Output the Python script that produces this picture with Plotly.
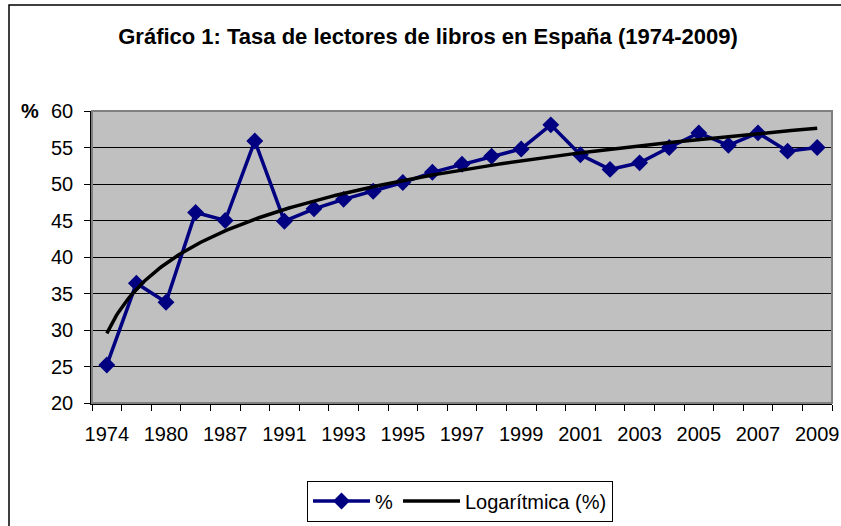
import numpy as np
import plotly.graph_objects as go

# ---- data ----
years = ["1974", "1978", "1980", "1985", "1987", "1990", "1991", "1992", "1993",
         "1994", "1995", "1996", "1997", "1998", "1999", "2000", "2001", "2002",
         "2003", "2004", "2005", "2006", "2007", "2008", "2009"]
rate = [25.2, 36.4, 33.8, 46.1, 45.0, 55.9, 44.9, 46.6, 47.9, 49.0, 50.2, 51.6,
        52.7, 53.8, 54.8, 58.1, 54.0, 52.0, 52.9, 55.0, 57.0, 55.3, 57.0, 54.5, 55.0]
label_years = years[::2]

title_text = "Gráfico 1: Tasa de lectores de libros en España (1974-2009)"
series_name = "%"
trend_name = "Logarítmica (%)"

FONT = "Liberation Sans, Arial, sans-serif"
NAVY = "#000080"

idx = np.arange(1, len(years) + 1)
# Excel-style logarithmic trendline: least-squares fit of y = a*ln(x) + b
a, b = np.polyfit(np.log(idx), np.array(rate), 1)
xt = np.linspace(1, len(years), 300)
yt = a * np.log(xt) + b

fig = go.Figure()
fig.add_trace(go.Scatter(
    x=idx, y=rate, name=series_name, mode="lines+markers",
    line=dict(color=NAVY, width=3.5),
    marker=dict(symbol="diamond", size=13, color=NAVY),
))
fig.add_trace(go.Scatter(
    x=xt, y=yt, name=trend_name, mode="lines",
    line=dict(color="black", width=3.5),
))

W, H = 841, 526
L, R, T, B = 92, 9, 111, 123
pw = W - L - R
ph = H - T - B


def px_x(p):
    return (p - L) / pw


def px_y(p):
    return (H - B - p) / ph


fig.update_layout(
    width=W, height=H,
    margin=dict(l=L, r=R, t=T, b=B, autoexpand=False),
    paper_bgcolor="white",
    plot_bgcolor="#C0C0C0",
    font=dict(family=FONT, size=20, color="black"),
    title=dict(
        text=title_text, x=428 / W, xref="container", xanchor="center",
        y=1 - 36 / H, yref="container", yanchor="middle",
        font=dict(family=FONT, size=22, color="black", weight="bold"),
    ),
    showlegend=True,
    legend=dict(
        orientation="h", xref="container", yref="container",
        x=460 / W, y=1 - 501 / H, xanchor="center", yanchor="middle",
        bordercolor="black", borderwidth=1, bgcolor="white",
        font=dict(family=FONT, size=20, color="black"),
        itemwidth=57, tracegroupgap=0,
    ),
    xaxis=dict(
        range=[0.5, len(years) + 0.5],
        tickmode="array", tickvals=idx[::2], ticktext=label_years,
        ticks="outside", ticklen=6, tickcolor="rgba(0,0,0,0)",
        ticklabelstandoff=6,
        showgrid=False, zeroline=False,
        showline=True, linecolor="black", linewidth=1.5,
        minor=dict(tickmode="array", tickvals=list(np.arange(0.5, len(years) + 1, 1.0)),
                   ticks="outside", ticklen=6, tickcolor="black", tickwidth=1,
                   showgrid=False),
        tickfont=dict(family=FONT, size=20, color="black"),
        fixedrange=True,
    ),
    yaxis=dict(
        range=[20, 60], tickmode="linear", tick0=20, dtick=5,
        ticks="outside", ticklen=6, tickcolor="black", tickwidth=1,
        ticklabelstandoff=7,
        showgrid=True, gridcolor="black", gridwidth=1,
        zeroline=False, showline=True, linecolor="black", linewidth=1.5,
        tickfont=dict(family=FONT, size=20, color="black"),
        fixedrange=True,
    ),
    shapes=[
        # plot-area frame (gray)
        dict(type="rect", xref="paper", yref="paper", x0=0, x1=1, y0=0, y1=1,
             line=dict(color="#808080", width=2), layer="above"),
        # outer chart border
        dict(type="rect", xref="paper", yref="paper",
             x0=px_x(9), x1=px_x(860), y0=px_y(545), y1=px_y(5),
             line=dict(color="black", width=1.5), layer="above"),
    ],
    annotations=[
        dict(text="%", xref="paper", yref="y", x=px_x(30), y=60,
             xanchor="center", yanchor="middle", showarrow=False,
             font=dict(family=FONT, size=20, color="black", weight="bold")),
    ],
)

fig.write_html(
    "out.html",
    config={"displayModeBar": False},
    post_script="document.body.style.margin='0';document.body.style.overflow='hidden';",
)
